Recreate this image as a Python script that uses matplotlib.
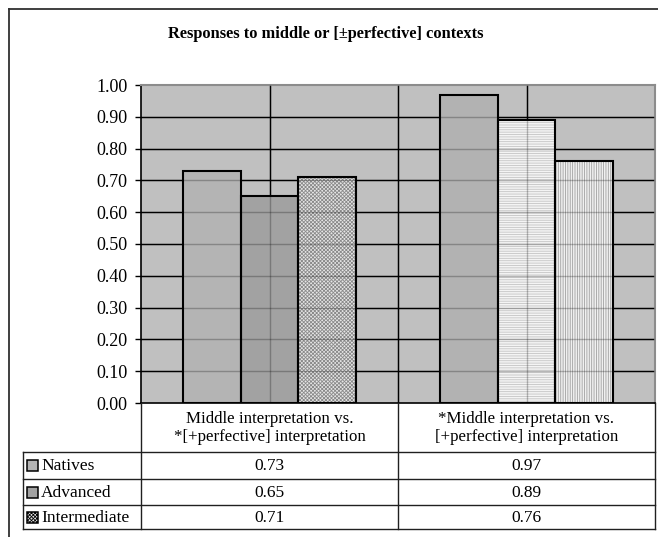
import numpy as np
import matplotlib
matplotlib.use("Agg")
import matplotlib.pyplot as plt
from matplotlib.patches import Rectangle
from matplotlib.lines import Line2D

plt.rcParams['font.family'] = ['Liberation Serif', 'DejaVu Serif']
plt.rcParams['hatch.linewidth'] = 0.6

title = "Responses to middle or [\u00b1perfective] contexts"
categories = ["Middle interpretation vs.\n*[+perfective] interpretation",
              "*Middle interpretation vs.\n[+perfective] interpretation"]
groups = ["Natives", "Advanced", "Intermediate"]
natives = [0.73, 0.97]
advanced = [0.65, 0.89]
intermediate = [0.71, 0.76]
yticks = [0.0, 0.1, 0.2, 0.3, 0.4, 0.5, 0.6, 0.7, 0.8, 0.9, 1.0]

# fill style per (series, category)
styles = {
    ("Natives", 0): dict(fc="#b4b4b4", hatch=None, hc=None),
    ("Advanced", 0): dict(fc="#a2a2a2", hatch=None, hc=None),
    ("Intermediate", 0): dict(fc="#e6e6e6", hatch="xxxxxxxxx", hc="#8a8a8a"),
    ("Natives", 1): dict(fc="#b2b2b2", hatch=None, hc=None),
    ("Advanced", 1): dict(fc="#f4f4f4", hatch="-------", hc="#c4c4c4"),
    ("Intermediate", 1): dict(fc="#f0f0f0", hatch="|||||||", hc="#a0a0a0"),
}

W, H = 658, 537
fig = plt.figure(figsize=(W / 100, H / 100), dpi=100)


def fx(px):
    return px / W


def fy(py):
    return 1 - py / H


# outer chart frame (top and left edges)
fig.add_artist(Line2D([fx(9), fx(658)], [fy(9), fy(9)], color="#303030", lw=1.3))
fig.add_artist(Line2D([fx(9), fx(9)], [fy(9), fy(537)], color="#303030", lw=1.3))

fig.text(fx(326), fy(34), title, ha="center", va="center", fontsize=11.8, fontweight="bold")

left, right, top, bottom = 141, 655, 85, 403
ax = fig.add_axes([fx(left), fy(bottom), fx(right - left), (bottom - top) / H])
ax.set_facecolor("#c0c0c0")
ax.set_xlim(-0.5, 1.5)
ax.set_ylim(0, 1.0)
ax.set_yticks(yticks)
ax.set_yticklabels(["%.2f" % t for t in yticks], fontsize=13)
ax.tick_params(axis="y", direction="out", length=4, width=1, pad=5.5, color="black")
ax.set_xticks([])
for s in ["top", "right"]:
    ax.spines[s].set_color("#8c8c8c")
    ax.spines[s].set_linewidth(1.5)
for s in ["left", "bottom"]:
    ax.spines[s].set_color("black")
    ax.spines[s].set_linewidth(1.2)

vlines = [0.0, 0.5, 1.0]
for t in yticks[1:-1]:
    ax.axhline(t, color="black", lw=1, zorder=1)
for v in vlines:
    ax.axvline(v, color="black", lw=1, zorder=1)

x = np.arange(len(categories))
w = 0.224
series = [natives, advanced, intermediate]
for i, (name, vals) in enumerate(zip(groups, series)):
    for j, v in enumerate(vals):
        st = styles[(name, j)]
        xc = x[j] + (i - 1) * w
        ax.bar(xc, v, w, color=st["fc"], edgecolor="none", zorder=2)
        if st["hatch"]:
            ax.bar(xc, v, w, color="none", edgecolor=st["hc"], hatch=st["hatch"], lw=0, zorder=2.5)
        ax.bar(xc, v, w, color="none", edgecolor="black", lw=1.5, zorder=4)

# gridlines showing faintly through the bars
for t in yticks[1:-1]:
    ax.axhline(t, color="black", lw=1, alpha=0.25, zorder=3)
for v in vlines:
    ax.axvline(v, color="black", lw=1, alpha=0.25, zorder=3)

# data table under the plot
col_edges = [141, 398, 655]
col_centers = [269.5, 526.5]
row_lines = [452, 479, 505, 529]
tl = "#202020"
for cx in col_edges:
    fig.add_artist(Line2D([fx(cx), fx(cx)], [fy(bottom), fy(row_lines[-1])], color=tl, lw=1))
fig.add_artist(Line2D([fx(23), fx(23)], [fy(row_lines[0]), fy(row_lines[-1])], color=tl, lw=1))
for ry in row_lines:
    fig.add_artist(Line2D([fx(23), fx(655)], [fy(ry), fy(ry)], color=tl, lw=1))

for cx, cat in zip(col_centers, categories):
    fig.text(fx(cx), fy(428), cat, ha="center", va="center", fontsize=12.2, linespacing=1.1)

for r, (name, vals) in enumerate(zip(groups, series)):
    yc = (row_lines[r] + row_lines[r + 1]) / 2
    st = styles[(name, 0)]
    key = Rectangle((fx(27), fy(yc + 5.5)), fx(11), 11 / H, transform=fig.transFigure,
                    facecolor=st["fc"], edgecolor="black", lw=1.1, hatch=st["hatch"])
    fig.add_artist(key)
    fig.text(fx(41), fy(yc + 1), name, ha="left", va="center", fontsize=12.5)
    for cx, v in zip(col_centers, vals):
        fig.text(fx(cx), fy(yc + 1), "%.2f" % v, ha="center", va="center", fontsize=12.5)

fig.savefig("out.png", dpi=100)
